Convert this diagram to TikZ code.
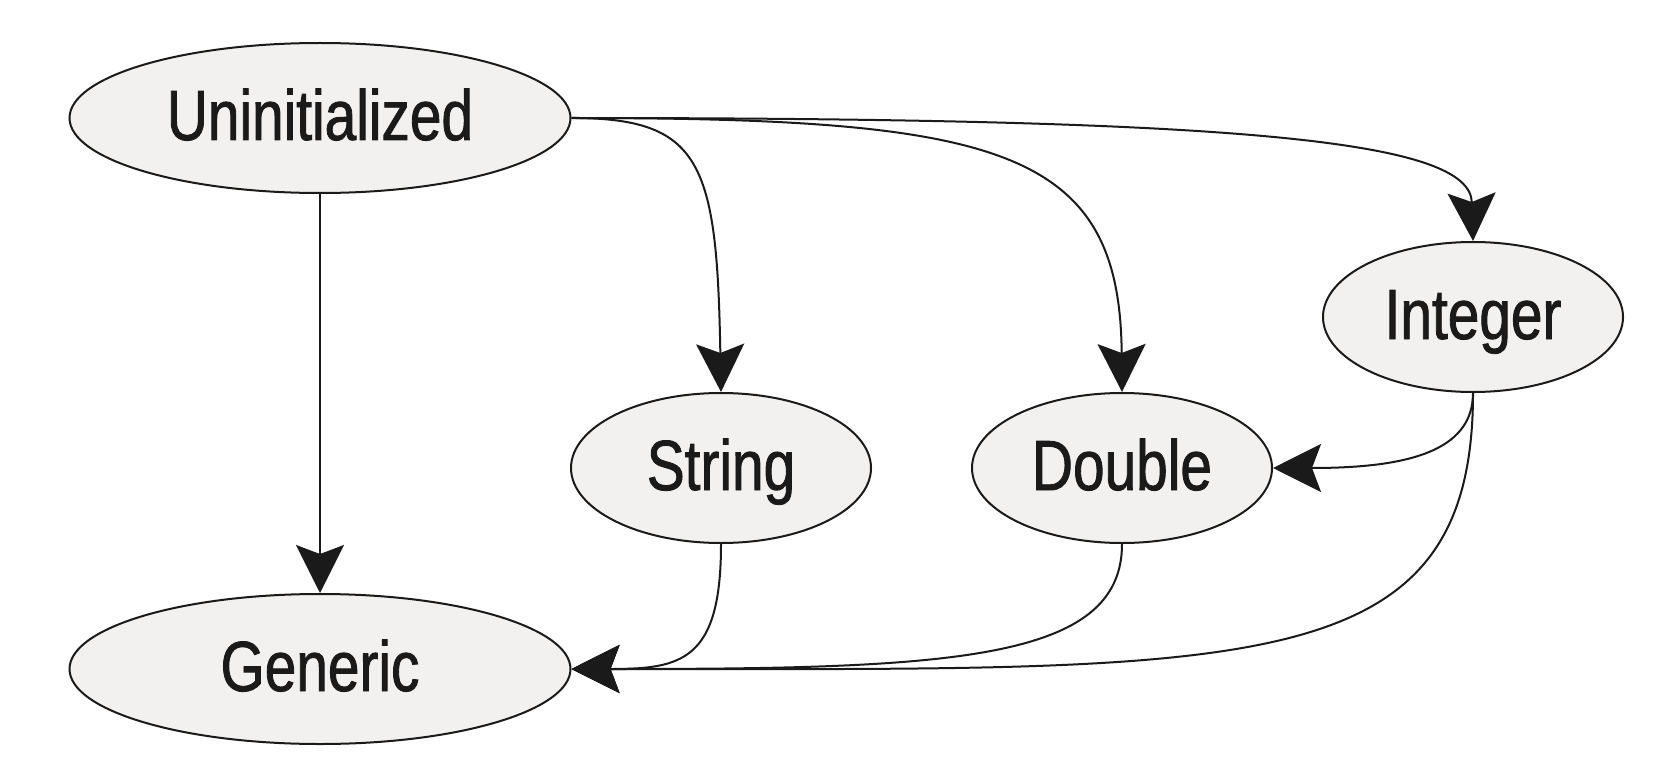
\documentclass[tikz,border=0pt]{standalone}
\usepackage{fontspec}
\setmainfont{Liberation Sans}[FakeStretch=0.8,FakeBold=1.2]
\usetikzlibrary{shapes.geometric,arrows.meta}
\definecolor{nodefill}{HTML}{F2F1F0}
\definecolor{ink}{HTML}{1A1A1A}

\begin{document}
\begin{tikzpicture}[x=1pt,y=-1pt,
  state/.style={ellipse, draw=ink, line width=2pt, fill=nodefill, inner sep=0pt,
    minimum height=150pt, text=ink, font=\fontsize{71}{71}\selectfont,
    text height=51pt, text depth=7pt},
  wide/.style={minimum width=501pt},
  narrow/.style={minimum width=300pt},
  edge/.style={draw=ink, line width=2pt,
    -{Stealth[length=48pt,width=48pt,inset=9pt,fill=ink]}}
]
\useasboundingbox (0,0) rectangle (1680,762);

% states
\node[state,wide]   (U) at (320,118) {Uninitialized};
\node[state,wide]   (G) at (320,669) {Generic};
\node[state,narrow] (S) at (721,468) {String};
\node[state,narrow] (D) at (1122,468) {Double};
\node[state,narrow] (I) at (1473,317) {Integer};

% transitions
\draw[edge] (U.south) -- (G.north);
\draw[edge] (U.east) .. controls +(130,0) and +(-4,-230) .. (S.north);
\draw[edge] (U.east) .. controls +(430,0) and +(-2,-243) .. (D.north);
\draw[edge] (U.east) .. controls +(680,0) and +(-3,-100) .. (I.north);
\draw[edge] (I.south) .. controls +(0,60) and +(130,0) .. (D.east);
\draw[edge] (I.south) .. controls +(0,290) and +(680,0) .. (G.east);
\draw[edge] (S.south) .. controls +(0,117) and +(110,0) .. (G.east);
\draw[edge] (D.south) .. controls +(0,117) and +(380,0) .. (G.east);
\end{tikzpicture}
\end{document}
